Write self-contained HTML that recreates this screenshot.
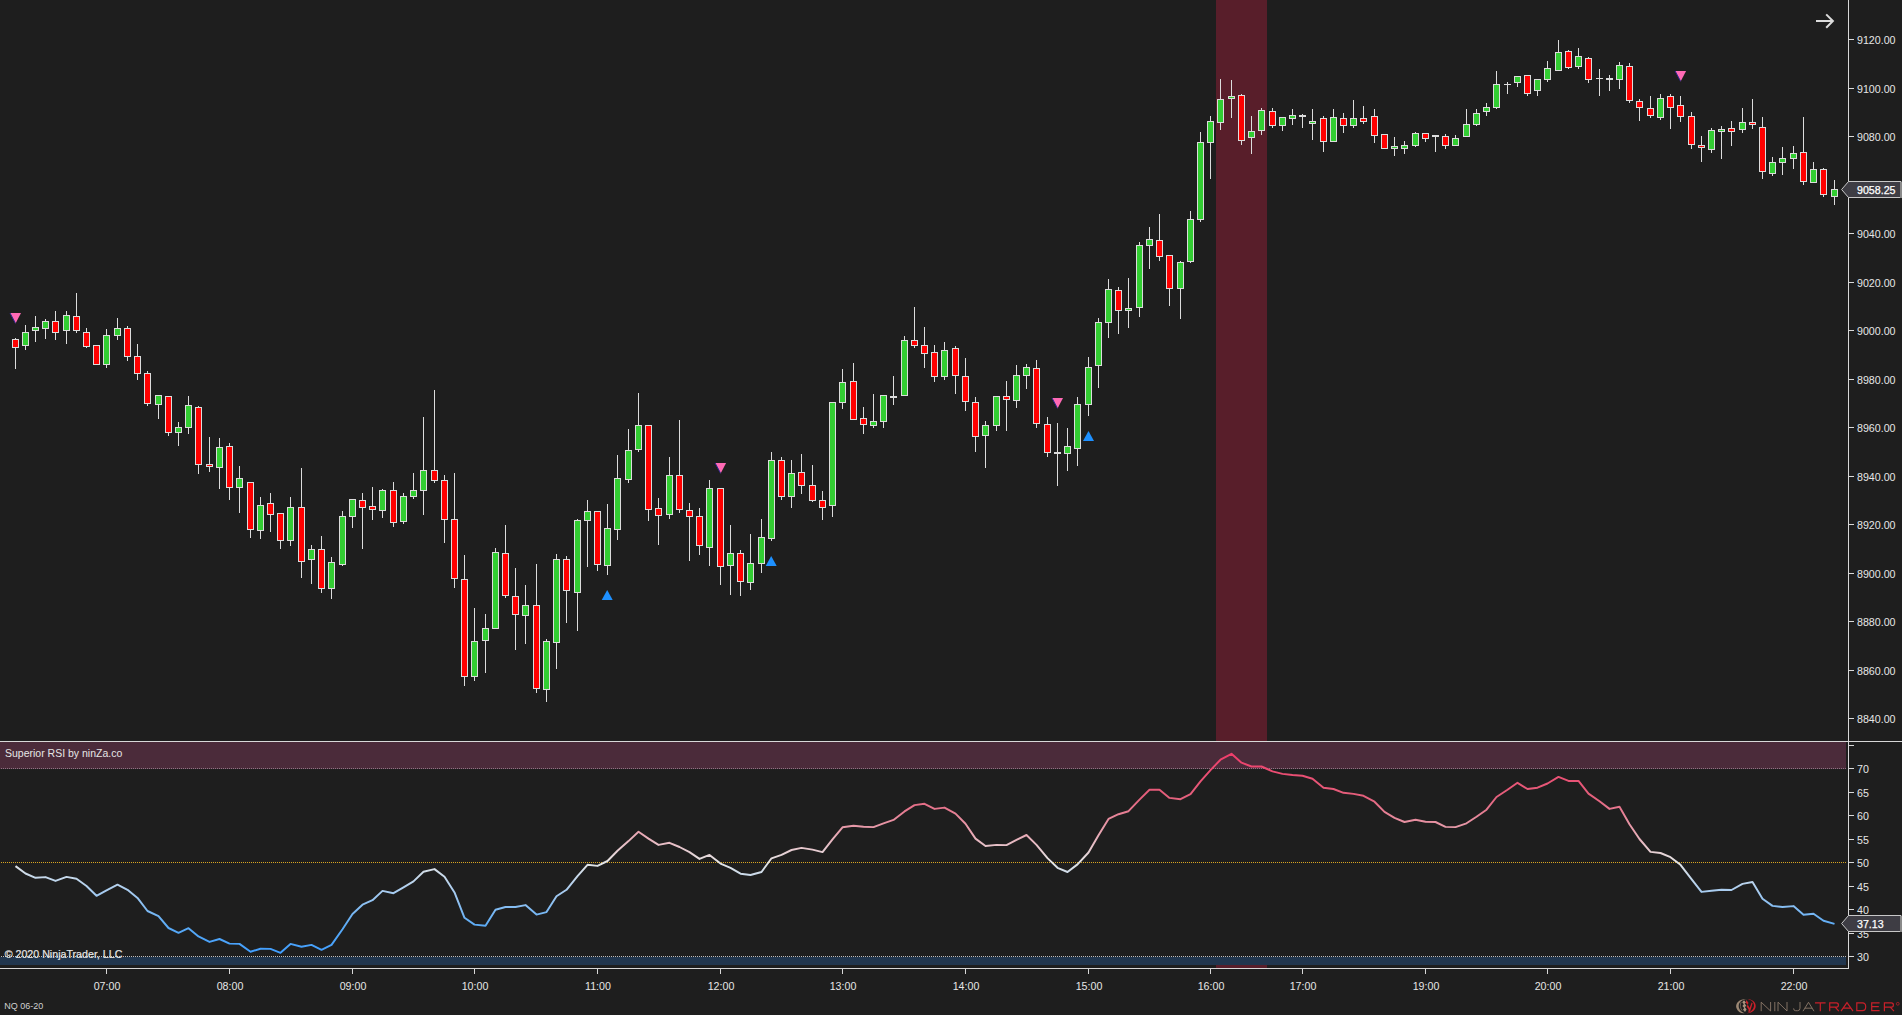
<!DOCTYPE html><html><head><meta charset="utf-8"><title>NQ 06-20</title>
<style>html,body{margin:0;padding:0;background:#1e1e1e;overflow:hidden}svg{display:block}text{font-family:"Liberation Sans",sans-serif;}</style></head><body>
<svg width="1902" height="1015" viewBox="0 0 1902 1015">
<defs><linearGradient id="rg" gradientUnits="userSpaceOnUse" x1="0" y1="752" x2="0" y2="957"><stop offset="0" stop-color="#f03c6a"/><stop offset="0.22" stop-color="#e4607c"/><stop offset="0.40" stop-color="#e8a8b4"/><stop offset="0.537" stop-color="#e4e4e4"/><stop offset="0.68" stop-color="#a8ccf0"/><stop offset="0.85" stop-color="#5aaaf5"/><stop offset="1" stop-color="#3c9cff"/></linearGradient></defs>
<rect width="1902" height="1015" fill="#1e1e1e"/>
<g shape-rendering="crispEdges">
<rect x="1216" y="0" width="51" height="968" fill="#581e2a"/>
<rect x="0" y="742" width="1848" height="223" fill="#1e1e1e"/>
<rect x="0" y="742" width="1846" height="27" fill="#4b2b3a"/>
<rect x="0" y="957" width="1846" height="8" fill="#21364e"/>
</g>
<g shape-rendering="crispEdges" fill="none" stroke-width="1" stroke-dasharray="1 1">
<line x1="1" y1="768.5" x2="1846" y2="768.5" stroke="#8f7484"/>
<line x1="1" y1="956.5" x2="1846" y2="956.5" stroke="#bebebe"/>
<line x1="1" y1="862.5" x2="1846" y2="862.5" stroke="#daa520"/>
</g>
<g shape-rendering="crispEdges">
<rect x="15" y="338" width="1" height="31" fill="#dcdcdc"/>
<rect x="12" y="339" width="7" height="9" fill="#dcdcdc"/>
<rect x="13" y="340" width="5" height="7" fill="#ff0000"/>
<rect x="25" y="325" width="1" height="25" fill="#dcdcdc"/>
<rect x="22" y="332" width="7" height="14" fill="#dcdcdc"/>
<rect x="23" y="333" width="5" height="12" fill="#32cd32"/>
<rect x="35" y="316" width="1" height="26" fill="#dcdcdc"/>
<rect x="32" y="327" width="7" height="4" fill="#dcdcdc"/>
<rect x="33" y="328" width="5" height="2" fill="#32cd32"/>
<rect x="45" y="319" width="1" height="20" fill="#dcdcdc"/>
<rect x="42" y="321" width="7" height="8" fill="#dcdcdc"/>
<rect x="43" y="322" width="5" height="6" fill="#32cd32"/>
<rect x="55" y="311" width="1" height="29" fill="#dcdcdc"/>
<rect x="52" y="321" width="7" height="12" fill="#dcdcdc"/>
<rect x="53" y="322" width="5" height="10" fill="#ff0000"/>
<rect x="66" y="311" width="1" height="33" fill="#dcdcdc"/>
<rect x="63" y="315" width="7" height="16" fill="#dcdcdc"/>
<rect x="64" y="316" width="5" height="14" fill="#32cd32"/>
<rect x="76" y="293" width="1" height="40" fill="#dcdcdc"/>
<rect x="73" y="316" width="7" height="15" fill="#dcdcdc"/>
<rect x="74" y="317" width="5" height="13" fill="#ff0000"/>
<rect x="86" y="328" width="1" height="20" fill="#dcdcdc"/>
<rect x="83" y="332" width="7" height="15" fill="#dcdcdc"/>
<rect x="84" y="333" width="5" height="13" fill="#ff0000"/>
<rect x="96" y="345" width="1" height="20" fill="#dcdcdc"/>
<rect x="93" y="345" width="7" height="20" fill="#dcdcdc"/>
<rect x="94" y="346" width="5" height="18" fill="#ff0000"/>
<rect x="106" y="329" width="1" height="39" fill="#dcdcdc"/>
<rect x="103" y="335" width="7" height="30" fill="#dcdcdc"/>
<rect x="104" y="336" width="5" height="28" fill="#32cd32"/>
<rect x="117" y="318" width="1" height="22" fill="#dcdcdc"/>
<rect x="114" y="328" width="7" height="8" fill="#dcdcdc"/>
<rect x="115" y="329" width="5" height="6" fill="#32cd32"/>
<rect x="127" y="326" width="1" height="35" fill="#dcdcdc"/>
<rect x="124" y="328" width="7" height="29" fill="#dcdcdc"/>
<rect x="125" y="329" width="5" height="27" fill="#ff0000"/>
<rect x="137" y="344" width="1" height="36" fill="#dcdcdc"/>
<rect x="134" y="356" width="7" height="18" fill="#dcdcdc"/>
<rect x="135" y="357" width="5" height="16" fill="#ff0000"/>
<rect x="147" y="371" width="1" height="35" fill="#dcdcdc"/>
<rect x="144" y="373" width="7" height="31" fill="#dcdcdc"/>
<rect x="145" y="374" width="5" height="29" fill="#ff0000"/>
<rect x="158" y="395" width="1" height="24" fill="#dcdcdc"/>
<rect x="155" y="395" width="7" height="10" fill="#dcdcdc"/>
<rect x="156" y="396" width="5" height="8" fill="#32cd32"/>
<rect x="168" y="396" width="1" height="40" fill="#dcdcdc"/>
<rect x="165" y="396" width="7" height="37" fill="#dcdcdc"/>
<rect x="166" y="397" width="5" height="35" fill="#ff0000"/>
<rect x="178" y="422" width="1" height="24" fill="#dcdcdc"/>
<rect x="175" y="427" width="7" height="6" fill="#dcdcdc"/>
<rect x="176" y="428" width="5" height="4" fill="#32cd32"/>
<rect x="188" y="396" width="1" height="38" fill="#dcdcdc"/>
<rect x="185" y="405" width="7" height="23" fill="#dcdcdc"/>
<rect x="186" y="406" width="5" height="21" fill="#32cd32"/>
<rect x="198" y="406" width="1" height="68" fill="#dcdcdc"/>
<rect x="195" y="407" width="7" height="58" fill="#dcdcdc"/>
<rect x="196" y="408" width="5" height="56" fill="#ff0000"/>
<rect x="209" y="437" width="1" height="35" fill="#dcdcdc"/>
<rect x="206" y="464" width="7" height="3" fill="#dcdcdc"/>
<rect x="207" y="465" width="5" height="1" fill="#ff0000"/>
<rect x="219" y="438" width="1" height="51" fill="#dcdcdc"/>
<rect x="216" y="447" width="7" height="21" fill="#dcdcdc"/>
<rect x="217" y="448" width="5" height="19" fill="#32cd32"/>
<rect x="229" y="443" width="1" height="57" fill="#dcdcdc"/>
<rect x="226" y="446" width="7" height="42" fill="#dcdcdc"/>
<rect x="227" y="447" width="5" height="40" fill="#ff0000"/>
<rect x="239" y="466" width="1" height="47" fill="#dcdcdc"/>
<rect x="236" y="478" width="7" height="10" fill="#dcdcdc"/>
<rect x="237" y="479" width="5" height="8" fill="#32cd32"/>
<rect x="250" y="482" width="1" height="56" fill="#dcdcdc"/>
<rect x="247" y="482" width="7" height="48" fill="#dcdcdc"/>
<rect x="248" y="483" width="5" height="46" fill="#ff0000"/>
<rect x="260" y="497" width="1" height="42" fill="#dcdcdc"/>
<rect x="257" y="505" width="7" height="26" fill="#dcdcdc"/>
<rect x="258" y="506" width="5" height="24" fill="#32cd32"/>
<rect x="270" y="493" width="1" height="39" fill="#dcdcdc"/>
<rect x="267" y="503" width="7" height="12" fill="#dcdcdc"/>
<rect x="268" y="504" width="5" height="10" fill="#ff0000"/>
<rect x="280" y="513" width="1" height="36" fill="#dcdcdc"/>
<rect x="277" y="513" width="7" height="28" fill="#dcdcdc"/>
<rect x="278" y="514" width="5" height="26" fill="#ff0000"/>
<rect x="290" y="497" width="1" height="49" fill="#dcdcdc"/>
<rect x="287" y="507" width="7" height="34" fill="#dcdcdc"/>
<rect x="288" y="508" width="5" height="32" fill="#32cd32"/>
<rect x="301" y="468" width="1" height="110" fill="#dcdcdc"/>
<rect x="298" y="507" width="7" height="55" fill="#dcdcdc"/>
<rect x="299" y="508" width="5" height="53" fill="#ff0000"/>
<rect x="311" y="545" width="1" height="39" fill="#dcdcdc"/>
<rect x="308" y="549" width="7" height="11" fill="#dcdcdc"/>
<rect x="309" y="550" width="5" height="9" fill="#32cd32"/>
<rect x="321" y="536" width="1" height="57" fill="#dcdcdc"/>
<rect x="318" y="549" width="7" height="40" fill="#dcdcdc"/>
<rect x="319" y="550" width="5" height="38" fill="#ff0000"/>
<rect x="331" y="557" width="1" height="42" fill="#dcdcdc"/>
<rect x="328" y="562" width="7" height="27" fill="#dcdcdc"/>
<rect x="329" y="563" width="5" height="25" fill="#32cd32"/>
<rect x="342" y="511" width="1" height="55" fill="#dcdcdc"/>
<rect x="339" y="516" width="7" height="49" fill="#dcdcdc"/>
<rect x="340" y="517" width="5" height="47" fill="#32cd32"/>
<rect x="352" y="499" width="1" height="29" fill="#dcdcdc"/>
<rect x="349" y="499" width="7" height="18" fill="#dcdcdc"/>
<rect x="350" y="500" width="5" height="16" fill="#32cd32"/>
<rect x="362" y="493" width="1" height="56" fill="#dcdcdc"/>
<rect x="359" y="500" width="7" height="8" fill="#dcdcdc"/>
<rect x="360" y="501" width="5" height="6" fill="#ff0000"/>
<rect x="372" y="487" width="1" height="33" fill="#dcdcdc"/>
<rect x="369" y="506" width="7" height="4" fill="#dcdcdc"/>
<rect x="370" y="507" width="5" height="2" fill="#ff0000"/>
<rect x="382" y="489" width="1" height="29" fill="#dcdcdc"/>
<rect x="379" y="490" width="7" height="21" fill="#dcdcdc"/>
<rect x="380" y="491" width="5" height="19" fill="#32cd32"/>
<rect x="393" y="482" width="1" height="45" fill="#dcdcdc"/>
<rect x="390" y="490" width="7" height="33" fill="#dcdcdc"/>
<rect x="391" y="491" width="5" height="31" fill="#ff0000"/>
<rect x="403" y="493" width="1" height="31" fill="#dcdcdc"/>
<rect x="400" y="496" width="7" height="26" fill="#dcdcdc"/>
<rect x="401" y="497" width="5" height="24" fill="#32cd32"/>
<rect x="413" y="473" width="1" height="26" fill="#dcdcdc"/>
<rect x="410" y="490" width="7" height="7" fill="#dcdcdc"/>
<rect x="411" y="491" width="5" height="5" fill="#32cd32"/>
<rect x="423" y="417" width="1" height="98" fill="#dcdcdc"/>
<rect x="420" y="470" width="7" height="21" fill="#dcdcdc"/>
<rect x="421" y="471" width="5" height="19" fill="#32cd32"/>
<rect x="434" y="390" width="1" height="93" fill="#dcdcdc"/>
<rect x="431" y="470" width="7" height="11" fill="#dcdcdc"/>
<rect x="432" y="471" width="5" height="9" fill="#ff0000"/>
<rect x="444" y="475" width="1" height="68" fill="#dcdcdc"/>
<rect x="441" y="480" width="7" height="40" fill="#dcdcdc"/>
<rect x="442" y="481" width="5" height="38" fill="#ff0000"/>
<rect x="454" y="473" width="1" height="115" fill="#dcdcdc"/>
<rect x="451" y="519" width="7" height="60" fill="#dcdcdc"/>
<rect x="452" y="520" width="5" height="58" fill="#ff0000"/>
<rect x="464" y="555" width="1" height="131" fill="#dcdcdc"/>
<rect x="461" y="579" width="7" height="98" fill="#dcdcdc"/>
<rect x="462" y="580" width="5" height="96" fill="#ff0000"/>
<rect x="474" y="608" width="1" height="73" fill="#dcdcdc"/>
<rect x="471" y="641" width="7" height="36" fill="#dcdcdc"/>
<rect x="472" y="642" width="5" height="34" fill="#32cd32"/>
<rect x="485" y="614" width="1" height="59" fill="#dcdcdc"/>
<rect x="482" y="628" width="7" height="13" fill="#dcdcdc"/>
<rect x="483" y="629" width="5" height="11" fill="#32cd32"/>
<rect x="495" y="548" width="1" height="81" fill="#dcdcdc"/>
<rect x="492" y="552" width="7" height="77" fill="#dcdcdc"/>
<rect x="493" y="553" width="5" height="75" fill="#32cd32"/>
<rect x="505" y="525" width="1" height="73" fill="#dcdcdc"/>
<rect x="502" y="553" width="7" height="43" fill="#dcdcdc"/>
<rect x="503" y="554" width="5" height="41" fill="#ff0000"/>
<rect x="515" y="568" width="1" height="82" fill="#dcdcdc"/>
<rect x="512" y="596" width="7" height="19" fill="#dcdcdc"/>
<rect x="513" y="597" width="5" height="17" fill="#ff0000"/>
<rect x="525" y="585" width="1" height="59" fill="#dcdcdc"/>
<rect x="522" y="605" width="7" height="11" fill="#dcdcdc"/>
<rect x="523" y="606" width="5" height="9" fill="#32cd32"/>
<rect x="536" y="564" width="1" height="129" fill="#dcdcdc"/>
<rect x="533" y="605" width="7" height="84" fill="#dcdcdc"/>
<rect x="534" y="606" width="5" height="82" fill="#ff0000"/>
<rect x="546" y="639" width="1" height="63" fill="#dcdcdc"/>
<rect x="543" y="641" width="7" height="49" fill="#dcdcdc"/>
<rect x="544" y="642" width="5" height="47" fill="#32cd32"/>
<rect x="556" y="554" width="1" height="115" fill="#dcdcdc"/>
<rect x="553" y="559" width="7" height="84" fill="#dcdcdc"/>
<rect x="554" y="560" width="5" height="82" fill="#32cd32"/>
<rect x="566" y="556" width="1" height="67" fill="#dcdcdc"/>
<rect x="563" y="559" width="7" height="32" fill="#dcdcdc"/>
<rect x="564" y="560" width="5" height="30" fill="#ff0000"/>
<rect x="577" y="519" width="1" height="112" fill="#dcdcdc"/>
<rect x="574" y="520" width="7" height="73" fill="#dcdcdc"/>
<rect x="575" y="521" width="5" height="71" fill="#32cd32"/>
<rect x="587" y="500" width="1" height="67" fill="#dcdcdc"/>
<rect x="584" y="511" width="7" height="10" fill="#dcdcdc"/>
<rect x="585" y="512" width="5" height="8" fill="#32cd32"/>
<rect x="597" y="511" width="1" height="60" fill="#dcdcdc"/>
<rect x="594" y="511" width="7" height="54" fill="#dcdcdc"/>
<rect x="595" y="512" width="5" height="52" fill="#ff0000"/>
<rect x="607" y="504" width="1" height="71" fill="#dcdcdc"/>
<rect x="604" y="528" width="7" height="38" fill="#dcdcdc"/>
<rect x="605" y="529" width="5" height="36" fill="#32cd32"/>
<rect x="617" y="455" width="1" height="85" fill="#dcdcdc"/>
<rect x="614" y="478" width="7" height="52" fill="#dcdcdc"/>
<rect x="615" y="479" width="5" height="50" fill="#32cd32"/>
<rect x="628" y="429" width="1" height="54" fill="#dcdcdc"/>
<rect x="625" y="450" width="7" height="30" fill="#dcdcdc"/>
<rect x="626" y="451" width="5" height="28" fill="#32cd32"/>
<rect x="638" y="393" width="1" height="59" fill="#dcdcdc"/>
<rect x="635" y="425" width="7" height="25" fill="#dcdcdc"/>
<rect x="636" y="426" width="5" height="23" fill="#32cd32"/>
<rect x="648" y="425" width="1" height="96" fill="#dcdcdc"/>
<rect x="645" y="425" width="7" height="85" fill="#dcdcdc"/>
<rect x="646" y="426" width="5" height="83" fill="#ff0000"/>
<rect x="658" y="498" width="1" height="47" fill="#dcdcdc"/>
<rect x="655" y="508" width="7" height="8" fill="#dcdcdc"/>
<rect x="656" y="509" width="5" height="6" fill="#ff0000"/>
<rect x="669" y="457" width="1" height="62" fill="#dcdcdc"/>
<rect x="666" y="475" width="7" height="40" fill="#dcdcdc"/>
<rect x="667" y="476" width="5" height="38" fill="#32cd32"/>
<rect x="679" y="420" width="1" height="93" fill="#dcdcdc"/>
<rect x="676" y="475" width="7" height="35" fill="#dcdcdc"/>
<rect x="677" y="476" width="5" height="33" fill="#ff0000"/>
<rect x="689" y="503" width="1" height="58" fill="#dcdcdc"/>
<rect x="686" y="510" width="7" height="7" fill="#dcdcdc"/>
<rect x="687" y="511" width="5" height="5" fill="#ff0000"/>
<rect x="699" y="508" width="1" height="47" fill="#dcdcdc"/>
<rect x="696" y="516" width="7" height="30" fill="#dcdcdc"/>
<rect x="697" y="517" width="5" height="28" fill="#ff0000"/>
<rect x="709" y="480" width="1" height="86" fill="#dcdcdc"/>
<rect x="706" y="488" width="7" height="60" fill="#dcdcdc"/>
<rect x="707" y="489" width="5" height="58" fill="#32cd32"/>
<rect x="720" y="488" width="1" height="97" fill="#dcdcdc"/>
<rect x="717" y="488" width="7" height="79" fill="#dcdcdc"/>
<rect x="718" y="489" width="5" height="77" fill="#ff0000"/>
<rect x="730" y="525" width="1" height="70" fill="#dcdcdc"/>
<rect x="727" y="553" width="7" height="13" fill="#dcdcdc"/>
<rect x="728" y="554" width="5" height="11" fill="#32cd32"/>
<rect x="740" y="550" width="1" height="46" fill="#dcdcdc"/>
<rect x="737" y="553" width="7" height="29" fill="#dcdcdc"/>
<rect x="738" y="554" width="5" height="27" fill="#ff0000"/>
<rect x="750" y="534" width="1" height="56" fill="#dcdcdc"/>
<rect x="747" y="563" width="7" height="20" fill="#dcdcdc"/>
<rect x="748" y="564" width="5" height="18" fill="#32cd32"/>
<rect x="761" y="519" width="1" height="54" fill="#dcdcdc"/>
<rect x="758" y="537" width="7" height="27" fill="#dcdcdc"/>
<rect x="759" y="538" width="5" height="25" fill="#32cd32"/>
<rect x="771" y="452" width="1" height="89" fill="#dcdcdc"/>
<rect x="768" y="460" width="7" height="79" fill="#dcdcdc"/>
<rect x="769" y="461" width="5" height="77" fill="#32cd32"/>
<rect x="781" y="457" width="1" height="43" fill="#dcdcdc"/>
<rect x="778" y="460" width="7" height="37" fill="#dcdcdc"/>
<rect x="779" y="461" width="5" height="35" fill="#ff0000"/>
<rect x="791" y="460" width="1" height="48" fill="#dcdcdc"/>
<rect x="788" y="473" width="7" height="24" fill="#dcdcdc"/>
<rect x="789" y="474" width="5" height="22" fill="#32cd32"/>
<rect x="801" y="454" width="1" height="40" fill="#dcdcdc"/>
<rect x="798" y="472" width="7" height="14" fill="#dcdcdc"/>
<rect x="799" y="473" width="5" height="12" fill="#ff0000"/>
<rect x="812" y="465" width="1" height="37" fill="#dcdcdc"/>
<rect x="809" y="485" width="7" height="16" fill="#dcdcdc"/>
<rect x="810" y="486" width="5" height="14" fill="#ff0000"/>
<rect x="822" y="491" width="1" height="29" fill="#dcdcdc"/>
<rect x="819" y="500" width="7" height="8" fill="#dcdcdc"/>
<rect x="820" y="501" width="5" height="6" fill="#ff0000"/>
<rect x="832" y="402" width="1" height="115" fill="#dcdcdc"/>
<rect x="829" y="402" width="7" height="104" fill="#dcdcdc"/>
<rect x="830" y="403" width="5" height="102" fill="#32cd32"/>
<rect x="842" y="369" width="1" height="40" fill="#dcdcdc"/>
<rect x="839" y="382" width="7" height="21" fill="#dcdcdc"/>
<rect x="840" y="383" width="5" height="19" fill="#32cd32"/>
<rect x="853" y="363" width="1" height="57" fill="#dcdcdc"/>
<rect x="850" y="381" width="7" height="39" fill="#dcdcdc"/>
<rect x="851" y="382" width="5" height="37" fill="#ff0000"/>
<rect x="863" y="407" width="1" height="27" fill="#dcdcdc"/>
<rect x="860" y="418" width="7" height="7" fill="#dcdcdc"/>
<rect x="861" y="419" width="5" height="5" fill="#ff0000"/>
<rect x="873" y="394" width="1" height="34" fill="#dcdcdc"/>
<rect x="870" y="421" width="7" height="5" fill="#dcdcdc"/>
<rect x="871" y="422" width="5" height="3" fill="#32cd32"/>
<rect x="883" y="395" width="1" height="33" fill="#dcdcdc"/>
<rect x="880" y="395" width="7" height="27" fill="#dcdcdc"/>
<rect x="881" y="396" width="5" height="25" fill="#32cd32"/>
<rect x="893" y="376" width="1" height="29" fill="#dcdcdc"/>
<rect x="890" y="396" width="7" height="2" fill="#dcdcdc"/>
<rect x="904" y="336" width="1" height="60" fill="#dcdcdc"/>
<rect x="901" y="340" width="7" height="56" fill="#dcdcdc"/>
<rect x="902" y="341" width="5" height="54" fill="#32cd32"/>
<rect x="914" y="307" width="1" height="41" fill="#dcdcdc"/>
<rect x="911" y="340" width="7" height="6" fill="#dcdcdc"/>
<rect x="912" y="341" width="5" height="4" fill="#ff0000"/>
<rect x="924" y="327" width="1" height="41" fill="#dcdcdc"/>
<rect x="921" y="345" width="7" height="9" fill="#dcdcdc"/>
<rect x="922" y="346" width="5" height="7" fill="#ff0000"/>
<rect x="934" y="345" width="1" height="37" fill="#dcdcdc"/>
<rect x="931" y="352" width="7" height="25" fill="#dcdcdc"/>
<rect x="932" y="353" width="5" height="23" fill="#ff0000"/>
<rect x="944" y="342" width="1" height="38" fill="#dcdcdc"/>
<rect x="941" y="350" width="7" height="27" fill="#dcdcdc"/>
<rect x="942" y="351" width="5" height="25" fill="#32cd32"/>
<rect x="955" y="346" width="1" height="48" fill="#dcdcdc"/>
<rect x="952" y="348" width="7" height="28" fill="#dcdcdc"/>
<rect x="953" y="349" width="5" height="26" fill="#ff0000"/>
<rect x="965" y="358" width="1" height="53" fill="#dcdcdc"/>
<rect x="962" y="376" width="7" height="26" fill="#dcdcdc"/>
<rect x="963" y="377" width="5" height="24" fill="#ff0000"/>
<rect x="975" y="397" width="1" height="55" fill="#dcdcdc"/>
<rect x="972" y="402" width="7" height="35" fill="#dcdcdc"/>
<rect x="973" y="403" width="5" height="33" fill="#ff0000"/>
<rect x="985" y="421" width="1" height="47" fill="#dcdcdc"/>
<rect x="982" y="425" width="7" height="11" fill="#dcdcdc"/>
<rect x="983" y="426" width="5" height="9" fill="#32cd32"/>
<rect x="996" y="396" width="1" height="35" fill="#dcdcdc"/>
<rect x="993" y="396" width="7" height="30" fill="#dcdcdc"/>
<rect x="994" y="397" width="5" height="28" fill="#32cd32"/>
<rect x="1006" y="381" width="1" height="50" fill="#dcdcdc"/>
<rect x="1003" y="396" width="7" height="4" fill="#dcdcdc"/>
<rect x="1004" y="397" width="5" height="2" fill="#ff0000"/>
<rect x="1016" y="365" width="1" height="43" fill="#dcdcdc"/>
<rect x="1013" y="375" width="7" height="26" fill="#dcdcdc"/>
<rect x="1014" y="376" width="5" height="24" fill="#32cd32"/>
<rect x="1026" y="364" width="1" height="25" fill="#dcdcdc"/>
<rect x="1023" y="367" width="7" height="9" fill="#dcdcdc"/>
<rect x="1024" y="368" width="5" height="7" fill="#32cd32"/>
<rect x="1036" y="360" width="1" height="68" fill="#dcdcdc"/>
<rect x="1033" y="368" width="7" height="56" fill="#dcdcdc"/>
<rect x="1034" y="369" width="5" height="54" fill="#ff0000"/>
<rect x="1047" y="417" width="1" height="40" fill="#dcdcdc"/>
<rect x="1044" y="424" width="7" height="29" fill="#dcdcdc"/>
<rect x="1045" y="425" width="5" height="27" fill="#ff0000"/>
<rect x="1057" y="423" width="1" height="63" fill="#dcdcdc"/>
<rect x="1054" y="452" width="7" height="2" fill="#dcdcdc"/>
<rect x="1067" y="428" width="1" height="43" fill="#dcdcdc"/>
<rect x="1064" y="446" width="7" height="8" fill="#dcdcdc"/>
<rect x="1065" y="447" width="5" height="6" fill="#32cd32"/>
<rect x="1077" y="397" width="1" height="69" fill="#dcdcdc"/>
<rect x="1074" y="404" width="7" height="45" fill="#dcdcdc"/>
<rect x="1075" y="405" width="5" height="43" fill="#32cd32"/>
<rect x="1088" y="357" width="1" height="59" fill="#dcdcdc"/>
<rect x="1085" y="367" width="7" height="38" fill="#dcdcdc"/>
<rect x="1086" y="368" width="5" height="36" fill="#32cd32"/>
<rect x="1098" y="318" width="1" height="70" fill="#dcdcdc"/>
<rect x="1095" y="322" width="7" height="44" fill="#dcdcdc"/>
<rect x="1096" y="323" width="5" height="42" fill="#32cd32"/>
<rect x="1108" y="279" width="1" height="59" fill="#dcdcdc"/>
<rect x="1105" y="289" width="7" height="34" fill="#dcdcdc"/>
<rect x="1106" y="290" width="5" height="32" fill="#32cd32"/>
<rect x="1118" y="287" width="1" height="47" fill="#dcdcdc"/>
<rect x="1115" y="290" width="7" height="21" fill="#dcdcdc"/>
<rect x="1116" y="291" width="5" height="19" fill="#ff0000"/>
<rect x="1128" y="278" width="1" height="50" fill="#dcdcdc"/>
<rect x="1125" y="308" width="7" height="3" fill="#dcdcdc"/>
<rect x="1126" y="309" width="5" height="1" fill="#32cd32"/>
<rect x="1139" y="242" width="1" height="75" fill="#dcdcdc"/>
<rect x="1136" y="245" width="7" height="63" fill="#dcdcdc"/>
<rect x="1137" y="246" width="5" height="61" fill="#32cd32"/>
<rect x="1149" y="227" width="1" height="42" fill="#dcdcdc"/>
<rect x="1146" y="239" width="7" height="7" fill="#dcdcdc"/>
<rect x="1147" y="240" width="5" height="5" fill="#32cd32"/>
<rect x="1159" y="214" width="1" height="47" fill="#dcdcdc"/>
<rect x="1156" y="240" width="7" height="17" fill="#dcdcdc"/>
<rect x="1157" y="241" width="5" height="15" fill="#ff0000"/>
<rect x="1169" y="255" width="1" height="51" fill="#dcdcdc"/>
<rect x="1166" y="255" width="7" height="34" fill="#dcdcdc"/>
<rect x="1167" y="256" width="5" height="32" fill="#ff0000"/>
<rect x="1180" y="261" width="1" height="58" fill="#dcdcdc"/>
<rect x="1177" y="262" width="7" height="27" fill="#dcdcdc"/>
<rect x="1178" y="263" width="5" height="25" fill="#32cd32"/>
<rect x="1190" y="211" width="1" height="52" fill="#dcdcdc"/>
<rect x="1187" y="219" width="7" height="43" fill="#dcdcdc"/>
<rect x="1188" y="220" width="5" height="41" fill="#32cd32"/>
<rect x="1200" y="132" width="1" height="90" fill="#dcdcdc"/>
<rect x="1197" y="142" width="7" height="78" fill="#dcdcdc"/>
<rect x="1198" y="143" width="5" height="76" fill="#32cd32"/>
<rect x="1210" y="116" width="1" height="63" fill="#dcdcdc"/>
<rect x="1207" y="121" width="7" height="22" fill="#dcdcdc"/>
<rect x="1208" y="122" width="5" height="20" fill="#32cd32"/>
<rect x="1220" y="79" width="1" height="51" fill="#dcdcdc"/>
<rect x="1217" y="99" width="7" height="24" fill="#dcdcdc"/>
<rect x="1218" y="100" width="5" height="22" fill="#32cd32"/>
<rect x="1231" y="80" width="1" height="38" fill="#dcdcdc"/>
<rect x="1228" y="96" width="7" height="3" fill="#dcdcdc"/>
<rect x="1229" y="97" width="5" height="1" fill="#32cd32"/>
<rect x="1241" y="94" width="1" height="51" fill="#dcdcdc"/>
<rect x="1238" y="95" width="7" height="46" fill="#dcdcdc"/>
<rect x="1239" y="96" width="5" height="44" fill="#ff0000"/>
<rect x="1251" y="116" width="1" height="38" fill="#dcdcdc"/>
<rect x="1248" y="131" width="7" height="7" fill="#dcdcdc"/>
<rect x="1249" y="132" width="5" height="5" fill="#32cd32"/>
<rect x="1261" y="108" width="1" height="27" fill="#dcdcdc"/>
<rect x="1258" y="110" width="7" height="21" fill="#dcdcdc"/>
<rect x="1259" y="111" width="5" height="19" fill="#32cd32"/>
<rect x="1272" y="108" width="1" height="20" fill="#dcdcdc"/>
<rect x="1269" y="111" width="7" height="15" fill="#dcdcdc"/>
<rect x="1270" y="112" width="5" height="13" fill="#ff0000"/>
<rect x="1282" y="117" width="1" height="14" fill="#dcdcdc"/>
<rect x="1279" y="117" width="7" height="9" fill="#dcdcdc"/>
<rect x="1280" y="118" width="5" height="7" fill="#32cd32"/>
<rect x="1292" y="109" width="1" height="16" fill="#dcdcdc"/>
<rect x="1289" y="115" width="7" height="4" fill="#dcdcdc"/>
<rect x="1290" y="116" width="5" height="2" fill="#32cd32"/>
<rect x="1302" y="114" width="1" height="14" fill="#dcdcdc"/>
<rect x="1299" y="115" width="7" height="2" fill="#dcdcdc"/>
<rect x="1312" y="109" width="1" height="31" fill="#dcdcdc"/>
<rect x="1309" y="121" width="7" height="3" fill="#dcdcdc"/>
<rect x="1310" y="122" width="5" height="1" fill="#32cd32"/>
<rect x="1323" y="116" width="1" height="36" fill="#dcdcdc"/>
<rect x="1320" y="118" width="7" height="24" fill="#dcdcdc"/>
<rect x="1321" y="119" width="5" height="22" fill="#ff0000"/>
<rect x="1333" y="109" width="1" height="33" fill="#dcdcdc"/>
<rect x="1330" y="117" width="7" height="25" fill="#dcdcdc"/>
<rect x="1331" y="118" width="5" height="23" fill="#32cd32"/>
<rect x="1343" y="113" width="1" height="20" fill="#dcdcdc"/>
<rect x="1340" y="118" width="7" height="8" fill="#dcdcdc"/>
<rect x="1341" y="119" width="5" height="6" fill="#ff0000"/>
<rect x="1353" y="100" width="1" height="28" fill="#dcdcdc"/>
<rect x="1350" y="118" width="7" height="8" fill="#dcdcdc"/>
<rect x="1351" y="119" width="5" height="6" fill="#32cd32"/>
<rect x="1363" y="106" width="1" height="18" fill="#dcdcdc"/>
<rect x="1360" y="118" width="7" height="4" fill="#dcdcdc"/>
<rect x="1361" y="119" width="5" height="2" fill="#ff0000"/>
<rect x="1374" y="109" width="1" height="34" fill="#dcdcdc"/>
<rect x="1371" y="116" width="7" height="20" fill="#dcdcdc"/>
<rect x="1372" y="117" width="5" height="18" fill="#ff0000"/>
<rect x="1384" y="134" width="1" height="15" fill="#dcdcdc"/>
<rect x="1381" y="134" width="7" height="15" fill="#dcdcdc"/>
<rect x="1382" y="135" width="5" height="13" fill="#ff0000"/>
<rect x="1394" y="137" width="1" height="19" fill="#dcdcdc"/>
<rect x="1391" y="146" width="7" height="3" fill="#dcdcdc"/>
<rect x="1392" y="147" width="5" height="1" fill="#32cd32"/>
<rect x="1404" y="141" width="1" height="13" fill="#dcdcdc"/>
<rect x="1401" y="145" width="7" height="4" fill="#dcdcdc"/>
<rect x="1402" y="146" width="5" height="2" fill="#32cd32"/>
<rect x="1415" y="132" width="1" height="15" fill="#dcdcdc"/>
<rect x="1412" y="133" width="7" height="13" fill="#dcdcdc"/>
<rect x="1413" y="134" width="5" height="11" fill="#32cd32"/>
<rect x="1425" y="133" width="1" height="9" fill="#dcdcdc"/>
<rect x="1422" y="133" width="7" height="6" fill="#dcdcdc"/>
<rect x="1423" y="134" width="5" height="4" fill="#ff0000"/>
<rect x="1435" y="135" width="1" height="17" fill="#dcdcdc"/>
<rect x="1432" y="135" width="7" height="2" fill="#dcdcdc"/>
<rect x="1445" y="134" width="1" height="15" fill="#dcdcdc"/>
<rect x="1442" y="136" width="7" height="10" fill="#dcdcdc"/>
<rect x="1443" y="137" width="5" height="8" fill="#ff0000"/>
<rect x="1455" y="135" width="1" height="11" fill="#dcdcdc"/>
<rect x="1452" y="138" width="7" height="8" fill="#dcdcdc"/>
<rect x="1453" y="139" width="5" height="6" fill="#32cd32"/>
<rect x="1466" y="109" width="1" height="28" fill="#dcdcdc"/>
<rect x="1463" y="124" width="7" height="13" fill="#dcdcdc"/>
<rect x="1464" y="125" width="5" height="11" fill="#32cd32"/>
<rect x="1476" y="109" width="1" height="17" fill="#dcdcdc"/>
<rect x="1473" y="113" width="7" height="12" fill="#dcdcdc"/>
<rect x="1474" y="114" width="5" height="10" fill="#32cd32"/>
<rect x="1486" y="103" width="1" height="13" fill="#dcdcdc"/>
<rect x="1483" y="107" width="7" height="5" fill="#dcdcdc"/>
<rect x="1484" y="108" width="5" height="3" fill="#32cd32"/>
<rect x="1496" y="71" width="1" height="38" fill="#dcdcdc"/>
<rect x="1493" y="84" width="7" height="24" fill="#dcdcdc"/>
<rect x="1494" y="85" width="5" height="22" fill="#32cd32"/>
<rect x="1507" y="82" width="1" height="12" fill="#dcdcdc"/>
<rect x="1504" y="84" width="7" height="1" fill="#dcdcdc"/>
<rect x="1517" y="76" width="1" height="11" fill="#dcdcdc"/>
<rect x="1514" y="76" width="7" height="7" fill="#dcdcdc"/>
<rect x="1515" y="77" width="5" height="5" fill="#32cd32"/>
<rect x="1527" y="75" width="1" height="21" fill="#dcdcdc"/>
<rect x="1524" y="75" width="7" height="19" fill="#dcdcdc"/>
<rect x="1525" y="76" width="5" height="17" fill="#ff0000"/>
<rect x="1537" y="79" width="1" height="17" fill="#dcdcdc"/>
<rect x="1534" y="79" width="7" height="12" fill="#dcdcdc"/>
<rect x="1535" y="80" width="5" height="10" fill="#32cd32"/>
<rect x="1547" y="61" width="1" height="21" fill="#dcdcdc"/>
<rect x="1544" y="68" width="7" height="12" fill="#dcdcdc"/>
<rect x="1545" y="69" width="5" height="10" fill="#32cd32"/>
<rect x="1558" y="40" width="1" height="31" fill="#dcdcdc"/>
<rect x="1555" y="52" width="7" height="19" fill="#dcdcdc"/>
<rect x="1556" y="53" width="5" height="17" fill="#32cd32"/>
<rect x="1568" y="50" width="1" height="19" fill="#dcdcdc"/>
<rect x="1565" y="51" width="7" height="17" fill="#dcdcdc"/>
<rect x="1566" y="52" width="5" height="15" fill="#ff0000"/>
<rect x="1578" y="48" width="1" height="21" fill="#dcdcdc"/>
<rect x="1575" y="56" width="7" height="11" fill="#dcdcdc"/>
<rect x="1576" y="57" width="5" height="9" fill="#32cd32"/>
<rect x="1588" y="57" width="1" height="26" fill="#dcdcdc"/>
<rect x="1585" y="58" width="7" height="22" fill="#dcdcdc"/>
<rect x="1586" y="59" width="5" height="20" fill="#ff0000"/>
<rect x="1599" y="69" width="1" height="27" fill="#dcdcdc"/>
<rect x="1596" y="78" width="7" height="1" fill="#dcdcdc"/>
<rect x="1609" y="75" width="1" height="16" fill="#dcdcdc"/>
<rect x="1606" y="78" width="7" height="2" fill="#dcdcdc"/>
<rect x="1619" y="62" width="1" height="27" fill="#dcdcdc"/>
<rect x="1616" y="65" width="7" height="15" fill="#dcdcdc"/>
<rect x="1617" y="66" width="5" height="13" fill="#32cd32"/>
<rect x="1629" y="63" width="1" height="40" fill="#dcdcdc"/>
<rect x="1626" y="66" width="7" height="35" fill="#dcdcdc"/>
<rect x="1627" y="67" width="5" height="33" fill="#ff0000"/>
<rect x="1639" y="99" width="1" height="22" fill="#dcdcdc"/>
<rect x="1636" y="101" width="7" height="7" fill="#dcdcdc"/>
<rect x="1637" y="102" width="5" height="5" fill="#ff0000"/>
<rect x="1650" y="96" width="1" height="22" fill="#dcdcdc"/>
<rect x="1647" y="108" width="7" height="8" fill="#dcdcdc"/>
<rect x="1648" y="109" width="5" height="6" fill="#ff0000"/>
<rect x="1660" y="94" width="1" height="26" fill="#dcdcdc"/>
<rect x="1657" y="98" width="7" height="20" fill="#dcdcdc"/>
<rect x="1658" y="99" width="5" height="18" fill="#32cd32"/>
<rect x="1670" y="94" width="1" height="35" fill="#dcdcdc"/>
<rect x="1667" y="96" width="7" height="12" fill="#dcdcdc"/>
<rect x="1668" y="97" width="5" height="10" fill="#ff0000"/>
<rect x="1680" y="96" width="1" height="26" fill="#dcdcdc"/>
<rect x="1677" y="105" width="7" height="12" fill="#dcdcdc"/>
<rect x="1678" y="106" width="5" height="10" fill="#ff0000"/>
<rect x="1691" y="112" width="1" height="37" fill="#dcdcdc"/>
<rect x="1688" y="116" width="7" height="29" fill="#dcdcdc"/>
<rect x="1689" y="117" width="5" height="27" fill="#ff0000"/>
<rect x="1701" y="136" width="1" height="26" fill="#dcdcdc"/>
<rect x="1698" y="145" width="7" height="3" fill="#dcdcdc"/>
<rect x="1699" y="146" width="5" height="1" fill="#ff0000"/>
<rect x="1711" y="128" width="1" height="25" fill="#dcdcdc"/>
<rect x="1708" y="130" width="7" height="20" fill="#dcdcdc"/>
<rect x="1709" y="131" width="5" height="18" fill="#32cd32"/>
<rect x="1721" y="126" width="1" height="33" fill="#dcdcdc"/>
<rect x="1718" y="129" width="7" height="3" fill="#dcdcdc"/>
<rect x="1719" y="130" width="5" height="1" fill="#32cd32"/>
<rect x="1731" y="121" width="1" height="25" fill="#dcdcdc"/>
<rect x="1728" y="128" width="7" height="4" fill="#dcdcdc"/>
<rect x="1729" y="129" width="5" height="2" fill="#ff0000"/>
<rect x="1742" y="108" width="1" height="25" fill="#dcdcdc"/>
<rect x="1739" y="122" width="7" height="8" fill="#dcdcdc"/>
<rect x="1740" y="123" width="5" height="6" fill="#32cd32"/>
<rect x="1752" y="99" width="1" height="30" fill="#dcdcdc"/>
<rect x="1749" y="122" width="7" height="3" fill="#dcdcdc"/>
<rect x="1750" y="123" width="5" height="1" fill="#ff0000"/>
<rect x="1762" y="117" width="1" height="62" fill="#dcdcdc"/>
<rect x="1759" y="127" width="7" height="45" fill="#dcdcdc"/>
<rect x="1760" y="128" width="5" height="43" fill="#ff0000"/>
<rect x="1772" y="157" width="1" height="19" fill="#dcdcdc"/>
<rect x="1769" y="162" width="7" height="12" fill="#dcdcdc"/>
<rect x="1770" y="163" width="5" height="10" fill="#32cd32"/>
<rect x="1782" y="147" width="1" height="28" fill="#dcdcdc"/>
<rect x="1779" y="158" width="7" height="5" fill="#dcdcdc"/>
<rect x="1780" y="159" width="5" height="3" fill="#32cd32"/>
<rect x="1793" y="146" width="1" height="23" fill="#dcdcdc"/>
<rect x="1790" y="153" width="7" height="6" fill="#dcdcdc"/>
<rect x="1791" y="154" width="5" height="4" fill="#32cd32"/>
<rect x="1803" y="117" width="1" height="68" fill="#dcdcdc"/>
<rect x="1800" y="152" width="7" height="30" fill="#dcdcdc"/>
<rect x="1801" y="153" width="5" height="28" fill="#ff0000"/>
<rect x="1813" y="162" width="1" height="21" fill="#dcdcdc"/>
<rect x="1810" y="169" width="7" height="14" fill="#dcdcdc"/>
<rect x="1811" y="170" width="5" height="12" fill="#32cd32"/>
<rect x="1823" y="168" width="1" height="29" fill="#dcdcdc"/>
<rect x="1820" y="169" width="7" height="26" fill="#dcdcdc"/>
<rect x="1821" y="170" width="5" height="24" fill="#ff0000"/>
<rect x="1834" y="180" width="1" height="25" fill="#dcdcdc"/>
<rect x="1831" y="189" width="7" height="8" fill="#dcdcdc"/>
<rect x="1832" y="190" width="5" height="6" fill="#32cd32"/>
</g>
<polygon points="10.0,313.0 21.0,313.0 15.5,323.4" fill="#ff69b4"/>
<line x1="10.0" y1="313.0" x2="15.5" y2="323.3" stroke="#2a2890" stroke-width="1"/>
<polygon points="715.1,463.0 726.1,463.0 720.6,473.4" fill="#ff69b4"/>
<line x1="715.1" y1="463.0" x2="720.6" y2="473.3" stroke="#2a2890" stroke-width="1"/>
<polygon points="1052.0,398.0 1063.0,398.0 1057.5,408.4" fill="#ff69b4"/>
<line x1="1052.0" y1="398.0" x2="1057.5" y2="408.3" stroke="#2a2890" stroke-width="1"/>
<polygon points="1675.1,71.0 1686.1,71.0 1680.6,81.4" fill="#ff69b4"/>
<line x1="1675.1" y1="71.0" x2="1680.6" y2="81.3" stroke="#2a2890" stroke-width="1"/>
<polygon points="601.7,600.0 612.7,600.0 607.2,590.0" fill="#1e90ff"/>
<polygon points="765.7,566.0 776.7,566.0 771.2,556.0" fill="#1e90ff"/>
<polygon points="1083.0,441.0 1094.0,441.0 1088.5,431.0" fill="#1e90ff"/>
<g stroke="#dcdcdc" stroke-width="2" fill="none" stroke-linecap="butt" stroke-linejoin="miter"><path d="M1816 21 H1832.5"/><path d="M1826.2 14.4 L1832.9 21 L1826.2 27.8"/></g>
<g shape-rendering="crispEdges" fill="#d8d8d8">
<rect x="1848" y="0" width="1" height="969"/>
<rect x="0" y="968" width="1849" height="1"/>
<rect x="0" y="741" width="1902" height="1"/>
<rect x="1849" y="39" width="5" height="1"/>
<rect x="1849" y="88" width="5" height="1"/>
<rect x="1849" y="136" width="5" height="1"/>
<rect x="1849" y="185" width="5" height="1"/>
<rect x="1849" y="233" width="5" height="1"/>
<rect x="1849" y="282" width="5" height="1"/>
<rect x="1849" y="330" width="5" height="1"/>
<rect x="1849" y="379" width="5" height="1"/>
<rect x="1849" y="427" width="5" height="1"/>
<rect x="1849" y="476" width="5" height="1"/>
<rect x="1849" y="524" width="5" height="1"/>
<rect x="1849" y="573" width="5" height="1"/>
<rect x="1849" y="621" width="5" height="1"/>
<rect x="1849" y="670" width="5" height="1"/>
<rect x="1849" y="718" width="5" height="1"/>
<rect x="1849" y="745" width="5" height="1"/>
<rect x="1849" y="768" width="5" height="1"/>
<rect x="1849" y="792" width="5" height="1"/>
<rect x="1849" y="815" width="5" height="1"/>
<rect x="1849" y="839" width="5" height="1"/>
<rect x="1849" y="862" width="5" height="1"/>
<rect x="1849" y="886" width="5" height="1"/>
<rect x="1849" y="909" width="5" height="1"/>
<rect x="1849" y="933" width="5" height="1"/>
<rect x="1849" y="956" width="5" height="1"/>
<rect x="106" y="969" width="1" height="5"/>
<rect x="229" y="969" width="1" height="5"/>
<rect x="352" y="969" width="1" height="5"/>
<rect x="474" y="969" width="1" height="5"/>
<rect x="597" y="969" width="1" height="5"/>
<rect x="720" y="969" width="1" height="5"/>
<rect x="842" y="969" width="1" height="5"/>
<rect x="965" y="969" width="1" height="5"/>
<rect x="1088" y="969" width="1" height="5"/>
<rect x="1210" y="969" width="1" height="5"/>
<rect x="1302" y="969" width="1" height="5"/>
<rect x="1425" y="969" width="1" height="5"/>
<rect x="1547" y="969" width="1" height="5"/>
<rect x="1670" y="969" width="1" height="5"/>
<rect x="1793" y="969" width="1" height="5"/>
</g>
<g fill="#e6e6e6" font-size="10.67px">
<text x="1857" y="44.0">9120.00</text>
<text x="1857" y="93.0">9100.00</text>
<text x="1857" y="141.0">9080.00</text>
<text x="1857" y="190.0">9060.00</text>
<text x="1857" y="238.0">9040.00</text>
<text x="1857" y="287.0">9020.00</text>
<text x="1857" y="335.0">9000.00</text>
<text x="1857" y="384.0">8980.00</text>
<text x="1857" y="432.0">8960.00</text>
<text x="1857" y="481.0">8940.00</text>
<text x="1857" y="529.0">8920.00</text>
<text x="1857" y="578.0">8900.00</text>
<text x="1857" y="626.0">8880.00</text>
<text x="1857" y="675.0">8860.00</text>
<text x="1857" y="723.0">8840.00</text>
<text x="1857" y="773.0">70</text>
<text x="1857" y="797.0">65</text>
<text x="1857" y="820.0">60</text>
<text x="1857" y="844.0">55</text>
<text x="1857" y="867.0">50</text>
<text x="1857" y="891.0">45</text>
<text x="1857" y="914.0">40</text>
<text x="1857" y="938.0">35</text>
<text x="1857" y="961.0">30</text>
<text x="107.0" y="990" text-anchor="middle">07:00</text>
<text x="230.0" y="990" text-anchor="middle">08:00</text>
<text x="353.0" y="990" text-anchor="middle">09:00</text>
<text x="475.0" y="990" text-anchor="middle">10:00</text>
<text x="598.0" y="990" text-anchor="middle">11:00</text>
<text x="721.0" y="990" text-anchor="middle">12:00</text>
<text x="843.0" y="990" text-anchor="middle">13:00</text>
<text x="966.0" y="990" text-anchor="middle">14:00</text>
<text x="1089.0" y="990" text-anchor="middle">15:00</text>
<text x="1211.0" y="990" text-anchor="middle">16:00</text>
<text x="1303.0" y="990" text-anchor="middle">17:00</text>
<text x="1426.0" y="990" text-anchor="middle">19:00</text>
<text x="1548.0" y="990" text-anchor="middle">20:00</text>
<text x="1671.0" y="990" text-anchor="middle">21:00</text>
<text x="1794.0" y="990" text-anchor="middle">22:00</text>
<text x="5" y="757" font-size="10.5px">Superior RSI by ninZa.co</text>
<text x="4.7" y="958" font-size="10.67px" stroke="#e6e6e6" stroke-width="0.2">© 2020 NinjaTrader, LLC</text>
</g>
<text x="4.3" y="1009" font-size="9px" fill="#d0d0d0">NQ 06-20</text>
<polyline points="15.5,866.1 25.5,873.5 35.5,877.8 45.5,877.1 55.5,880.9 66.5,876.9 76.5,878.8 86.5,886.0 96.5,895.8 106.5,890.3 117.5,884.7 127.5,889.8 137.5,897.9 147.5,911.0 158.5,916.1 168.5,928.0 178.5,932.8 188.5,928.2 198.5,936.4 209.5,941.9 219.5,939.0 229.5,943.6 239.5,943.9 250.5,951.7 260.5,948.7 270.5,948.9 280.5,952.8 290.5,943.9 301.5,946.8 311.5,944.9 321.5,949.8 331.5,944.9 342.5,929.2 352.5,914.0 362.5,904.7 372.5,900.2 382.5,890.9 393.5,893.2 403.5,887.3 413.5,881.4 423.5,871.8 434.5,869.1 444.5,876.7 454.5,892.4 464.5,917.8 474.5,924.6 485.5,925.8 495.5,909.7 505.5,907.0 515.5,907.0 525.5,905.1 536.5,914.6 546.5,912.1 556.5,896.2 566.5,889.8 577.5,876.1 587.5,864.8 597.5,865.9 607.5,861.0 617.5,850.8 628.5,841.1 638.5,831.8 648.5,838.6 658.5,844.9 669.5,842.8 679.5,847.0 689.5,852.1 699.5,858.9 709.5,854.9 720.5,863.6 730.5,867.8 740.5,873.7 750.5,875.0 761.5,872.0 771.5,858.3 781.5,854.9 791.5,850.0 801.5,847.9 812.5,849.6 822.5,852.1 832.5,839.4 842.5,827.3 853.5,825.8 863.5,826.7 873.5,827.1 883.5,823.3 893.5,819.9 904.5,811.4 914.5,805.1 924.5,803.8 934.5,808.9 944.5,807.6 955.5,813.6 965.5,823.7 975.5,838.6 985.5,846.0 996.5,844.9 1006.5,845.1 1016.5,839.8 1026.5,835.0 1036.5,844.9 1047.5,858.1 1057.5,867.8 1067.5,872.0 1077.5,864.4 1088.5,852.5 1098.5,835.2 1108.5,818.9 1118.5,814.2 1128.5,811.2 1139.5,799.6 1149.5,789.8 1159.5,789.8 1169.5,797.9 1180.5,799.2 1190.5,794.1 1200.5,781.4 1210.5,770.1 1220.5,759.7 1231.5,753.8 1241.5,762.7 1251.5,766.5 1261.5,766.5 1272.5,771.4 1282.5,773.9 1292.5,775.0 1302.5,775.8 1312.5,778.8 1323.5,787.7 1333.5,789.0 1343.5,792.8 1353.5,793.9 1363.5,795.8 1374.5,801.7 1384.5,811.9 1394.5,817.8 1404.5,822.0 1415.5,819.7 1425.5,821.8 1435.5,822.0 1445.5,826.9 1455.5,827.1 1466.5,823.3 1476.5,816.7 1486.5,809.7 1496.5,797.0 1507.5,789.8 1517.5,782.8 1527.5,789.0 1537.5,787.7 1547.5,783.5 1558.5,776.9 1568.5,780.9 1578.5,780.9 1588.5,793.6 1599.5,801.3 1609.5,808.9 1619.5,806.8 1629.5,824.2 1639.5,839.0 1650.5,851.9 1660.5,853.0 1670.5,857.2 1680.5,864.8 1691.5,879.2 1701.5,891.9 1711.5,890.7 1721.5,889.8 1731.5,890.0 1742.5,883.9 1752.5,882.0 1762.5,898.7 1772.5,905.9 1782.5,907.0 1793.5,906.1 1803.5,914.8 1813.5,913.8 1823.5,920.8 1834.5,923.9" fill="none" stroke="url(#rg)" stroke-width="1.95" stroke-linejoin="round" stroke-linecap="butt"/>
<polygon points="1841.6,189.5 1848.5,181.5 1901,181.5 1901,197.5 1848.5,197.5" fill="#3e3d44" stroke="#c8c8c8" stroke-width="1"/>
<rect x="1900" y="181.5" width="2" height="16" fill="#8a8a8a" shape-rendering="crispEdges"/>
<text x="1857" y="194.0" font-size="10.67px" fill="#ffffff" stroke="#ffffff" stroke-width="0.25">9058.25</text>
<polygon points="1841.6,923.5 1848.5,915.5 1901,915.5 1901,931.5 1848.5,931.5" fill="#3e3d44" stroke="#c8c8c8" stroke-width="1"/>
<rect x="1900" y="915.5" width="2" height="16" fill="#8a8a8a" shape-rendering="crispEdges"/>
<text x="1857" y="928.0" font-size="10.67px" fill="#ffffff" stroke="#ffffff" stroke-width="0.25">37.13</text>
<g fill="none" stroke-linecap="butt" stroke-linejoin="miter">
<g stroke="#93806f" stroke-width="0.85">
<path d="M1761.2 1011.2V1002.2L1770.6 1011V1002"/>
<path d="M1774.8 1002V1011.2"/>
<path d="M1778 1011.2V1002.2L1787 1011V1002"/>
<path d="M1800 1002V1008.2Q1800 1010.7 1797.6 1010.7H1795.6Q1793.6 1010.7 1793.6 1008.4"/>
<path d="M1803 1011.2L1808.5 1002.3L1814 1011.2M1804.8 1008.2H1812.2"/>
</g>
<g stroke="#c8202a" stroke-width="1.2">
<path d="M1815 1002.8H1825.6M1820.3 1002.8V1011.2"/>
<path d="M1829.7 1011.2V1002.8H1836.4Q1838.4 1002.8 1838.4 1005T1836.4 1007.2H1829.7M1835.2 1007.2L1838.8 1011.2"/>
<path d="M1841 1011.2L1847 1002.6L1853 1011.2M1843.2 1008.2H1850.8"/>
<path d="M1856.8 1002.8V1010.6H1862.4Q1865.7 1010.6 1865.7 1006.7T1862.4 1002.8H1856.8Z"/>
<path d="M1879.6 1002.8H1871.7V1010.6H1879.6M1871.7 1006.6H1878.8"/>
<path d="M1884.4 1011.2V1002.8H1891.4Q1893.4 1002.8 1893.4 1005T1891.4 1007.2H1884.4M1890.2 1007.2L1894 1011.2"/>
<circle cx="1897.8" cy="1003.8" r="1.4" stroke-width="0.7"/>
</g>
</g>
<g>
<path d="M1747 998.9C1739.5 998.6 1735 1003 1736.4 1008C1737.6 1011.8 1741.2 1013.6 1744.6 1013.2C1740.4 1011.8 1738.2 1008.4 1738.8 1004.8C1739.4 1001.6 1742.6 999.4 1747 998.9Z" fill="#9c8874"/>
<path d="M1747.5 998.9C1753.5 999.3 1756.5 1003.2 1755.6 1007.3C1754.7 1011.2 1750.8 1013.5 1746.8 1013.2C1751.4 1011.8 1754 1008.6 1754 1005.2C1754 1002.2 1751.4 999.8 1747.5 998.9Z" fill="#c8202a"/>
<path d="M1744 1000.2L1746 1002.4L1744.6 1003.6L1746.4 1005.8L1744.8 1007L1746.6 1009.6L1745 1012L1743 1009.8L1744.2 1008L1742.4 1006L1743.8 1004.2L1742.2 1002.2Z" fill="#a8927e"/>
<path d="M1741.2 1002C1739.8 1004.5 1740 1008 1742.2 1010.6" stroke="#7a6a5c" stroke-width="0.8" fill="none"/>
<path d="M1746.4 1000L1748.6 1003L1747.6 1004.2L1749.6 1008L1751.6 1002.6L1752.6 1003.2L1750.2 1011.2L1748.4 1012.4L1748.6 1009.4L1746.6 1006.4L1747.6 1005L1745.8 1002.4Z" fill="#cc2028"/>
</g>
</svg></body></html>
